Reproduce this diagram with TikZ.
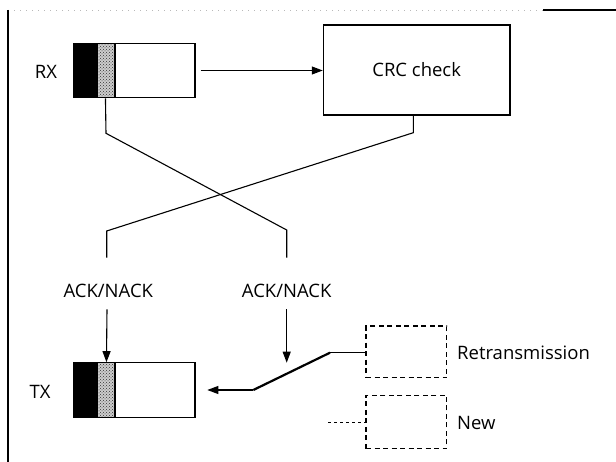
\documentclass[tikz,border=0pt]{standalone}
\usepackage{fontspec}
\setmainfont{Open Sans}
\usetikzlibrary{arrows.meta,patterns}
\begin{document}
\begin{tikzpicture}[x=1pt,y=-1pt,
  every node/.style={font=\fontsize{18.5}{22}\selectfont},
  buf/.style={draw,line width=1.2pt,minimum width=121.7pt,minimum height=54.4pt,inner sep=0pt,
    path picture={
      \fill[black] (path picture bounding box.north west) rectangle ([xshift=25pt]path picture bounding box.south west);
      \fill[gray!40] ([xshift=25pt]path picture bounding box.north west) rectangle ([xshift=41.7pt]path picture bounding box.south west);
      \fill[pattern=crosshatch dots,pattern color=black!80] ([xshift=25pt]path picture bounding box.north west) rectangle ([xshift=41.7pt]path picture bounding box.south west);
      \draw[line width=1.6pt] ([xshift=41.7pt]path picture bounding box.north west) -- ([xshift=41.7pt]path picture bounding box.south west);
    }},
  wire/.style={line width=1.1pt},
  arr/.style={wire,-{Triangle[length=11pt,width=8pt]}},
  dbox/.style={draw,line width=1.3pt,dash pattern=on 5pt off 3.5pt,inner sep=0pt,minimum width=80.7pt},
  lbl/.style={inner sep=0pt}]
\useasboundingbox (0,0) rectangle (616,462);
% frame
\draw[gray!55,line width=0.6pt,dash pattern=on 1pt off 5pt] (8,10) -- (543,10);
\draw[line width=1.2pt] (543,10) -- (616,10);
\draw[line width=1.2pt] (8,10) -- (8,462);
% nodes
\node[buf] (rx) at (134.2,70.5) {};
\node[buf] (tx) at (134.2,390) {};
\node[lbl] (rxl) at (46,72) {RX};
\node[lbl] (txl) at (40,392) {TX};
\node[draw,line width=1.2pt,minimum width=186.7pt,minimum height=90pt,inner sep=0pt] (crc) at (416.7,70) {CRC check};
\node[lbl] (ackL) at (108.3,291) {ACK/NACK};
\node[lbl] (ackR) at (286.7,291) {ACK/NACK};
\node[dbox,minimum height=51.7pt] (rt) at (406.4,352) {};
\node[dbox,minimum height=53.5pt] (nw) at (406.4,422) {};
\node[lbl,anchor=west] (rtl) at (457,352.7) {Retransmission};
\node[lbl,anchor=west] (nwl) at (457,422.7) {New};
% coordinates
\coordinate (l1a) at (106,133.3);
\coordinate (l1b) at (286.7,230);
\coordinate (l1e) at (286.7,257.7);
\coordinate (l2a) at (413.3,132.7);
\coordinate (l2b) at (106.7,231);
\coordinate (l2e) at (106.7,257.7);
\coordinate (aL) at (107,309.3);
\coordinate (aR) at (286.7,309.3);
\coordinate (aRt) at (286.7,362.7);
\coordinate (s1) at (253.3,390);
\coordinate (s2) at (330,352.7);
\coordinate (nwin) at (328.3,422.7);
% connectors
\draw[arr] ([xshift=5pt]rx.east) -- (rx.east -| crc.west);
\draw[wire] ([xshift=32.7pt]rx.south west) -- (l1a) -- (l1b) -- (l1e);
\draw[wire] ([xshift=-3.4pt]crc.south) -- (l2a) -- (l2b) -- (l2e);
\draw[arr] (aL) -- ([xshift=33.7pt]tx.north west);
\draw[arr] (aR) -- (aRt);
\draw[arr] (s1) -- ([xshift=11.7pt]tx.east);
\draw[line width=2.2pt] (s1) -- (s2);
\draw[wire] (s2) -- (s2 -| rt.west);
\draw[line width=0.8pt,dash pattern=on 3pt off 3pt] (nwin) -- (nwin -| nw.west);
\end{tikzpicture}
\end{document}
